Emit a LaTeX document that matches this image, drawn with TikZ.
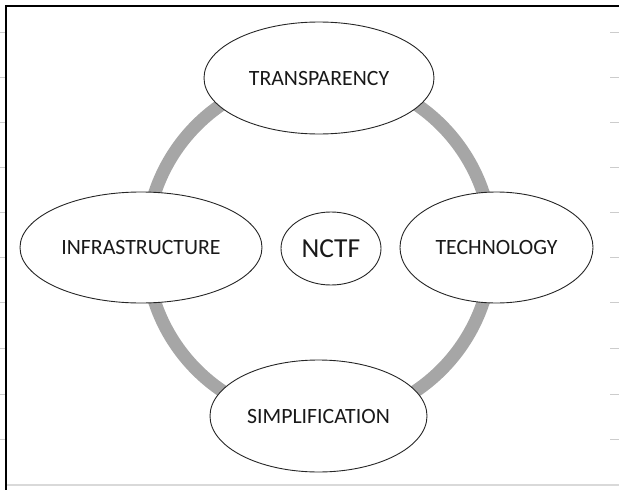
\documentclass[tikz,border=0pt]{standalone}
\usepackage{fontspec}
\setmainfont{Carlito}
\usetikzlibrary{shapes.geometric}
\begin{document}
\begin{tikzpicture}[x=1pt,y=-1pt,
  oval/.style={ellipse,draw=black!85,line width=0.9pt,fill=white,inner sep=0pt,text=black!90,font=\fontsize{21.8}{24}\selectfont},
  tick/.style={draw=black!20,line width=1pt},
  ring/.style={draw=black!35,line width=13pt}]
\useasboundingbox (0,0) rectangle (619,490);
% ticks
\foreach \y in {32,77,122,167,212,257,302,348,394,439}{
  \draw[tick] (0,\y) -- (6,\y);
  \draw[tick] (610,\y) -- (619,\y);
}
% frame
\draw[draw=black!15,line width=2pt] (7,485) -- (619,485);
\draw[black,line width=1.5pt] (6,490) -- (6,6) -- (619,6);
% ring
\coordinate (c) at (319,247.5);
\draw[ring] (c) circle (173);
% nodes
\node[oval,minimum width=230,minimum height=112] (T) at (319,78) {TRANSPARENCY};
\node[oval,minimum width=242,minimum height=111] (I) at (141,247.5) {INFRASTRUCTURE};
\node[oval,minimum width=193,minimum height=111] (Te) at (496.5,247.5) {TECHNOLOGY};
\node[oval,minimum width=217,minimum height=112] (S) at (318.5,416) {SIMPLIFICATION};
\node[oval,minimum width=100,minimum height=73,font=\fontsize{27.5}{30}\selectfont] (N) at (331,248.5) {NCTF};
\end{tikzpicture}
\end{document}
